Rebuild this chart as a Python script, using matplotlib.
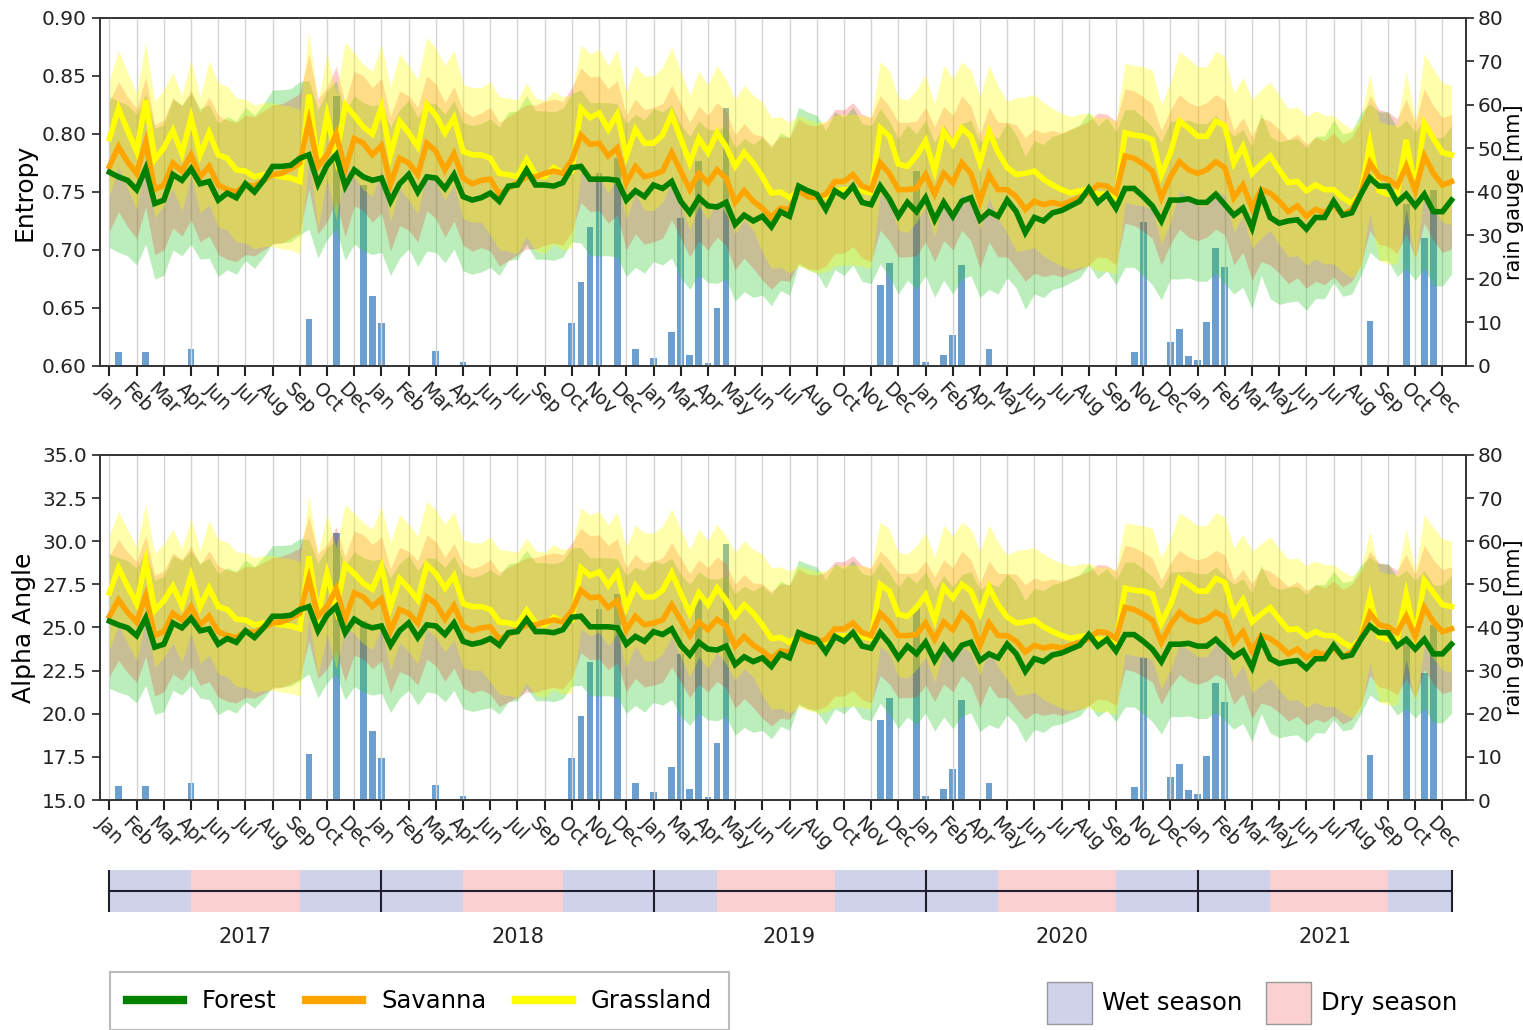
import numpy as np
import matplotlib
matplotlib.use("Agg")
import matplotlib.pyplot as plt
from matplotlib.lines import Line2D
from matplotlib.patches import Patch

plt.rcParams["font.family"] = ["DejaVu Sans"]

# tick labels, one every third acquisition
month_labels = ['Jan', 'Feb', 'Mar', 'Apr', 'Jun', 'Jul', 'Aug', 'Sep', 'Oct', 'Dec',
                'Jan', 'Feb', 'Mar', 'Apr', 'Jun', 'Jul', 'Sep', 'Oct', 'Nov', 'Dec',
                'Jan', 'Mar', 'Apr', 'May', 'Jun', 'Jul', 'Aug', 'Oct', 'Nov', 'Dec',
                'Jan', 'Feb', 'Apr', 'May', 'Jun', 'Jul', 'Aug', 'Sep', 'Nov', 'Dec',
                'Jan', 'Feb', 'Mar', 'May', 'Jun', 'Jul', 'Aug', 'Sep', 'Oct', 'Dec']

# mean entropy per class
forest_h = [0.767, 0.763, 0.760, 0.752, 0.770, 0.740, 0.743, 0.765, 0.760, 0.770,
            0.757, 0.759, 0.743, 0.749, 0.745, 0.757, 0.750, 0.760, 0.772, 0.772,
            0.773, 0.779, 0.782, 0.757, 0.773, 0.782, 0.755, 0.769, 0.763, 0.760,
            0.762, 0.742, 0.757, 0.765, 0.750, 0.763, 0.762, 0.753, 0.765, 0.746,
            0.743, 0.745, 0.749, 0.742, 0.755, 0.756, 0.769, 0.756, 0.756, 0.755,
            0.758, 0.771, 0.772, 0.761, 0.761, 0.761, 0.760, 0.743, 0.751, 0.746,
            0.756, 0.753, 0.759, 0.742, 0.732, 0.745, 0.738, 0.737, 0.741, 0.722,
            0.730, 0.725, 0.729, 0.720, 0.733, 0.729, 0.755, 0.751, 0.748, 0.735,
            0.751, 0.746, 0.755, 0.741, 0.739, 0.755, 0.744, 0.729, 0.741, 0.733,
            0.745, 0.726, 0.741, 0.729, 0.742, 0.745, 0.726, 0.733, 0.729, 0.743,
            0.733, 0.715, 0.728, 0.725, 0.732, 0.734, 0.738, 0.742, 0.753, 0.741,
            0.748, 0.736, 0.753, 0.753, 0.746, 0.738, 0.725, 0.743, 0.743, 0.744,
            0.741, 0.741, 0.748, 0.739, 0.730, 0.736, 0.719, 0.748, 0.728, 0.723,
            0.725, 0.726, 0.718, 0.728, 0.728, 0.742, 0.730, 0.732, 0.748, 0.762,
            0.755, 0.755, 0.741, 0.748, 0.738, 0.748, 0.733, 0.733, 0.743]
savanna_h = [0.772, 0.789, 0.776, 0.766, 0.793, 0.752, 0.756, 0.775, 0.768, 0.782,
             0.763, 0.772, 0.756, 0.752, 0.750, 0.756, 0.755, 0.760, 0.765, 0.766,
             0.770, 0.775, 0.811, 0.772, 0.782, 0.800, 0.769, 0.796, 0.792, 0.782,
             0.790, 0.757, 0.779, 0.775, 0.765, 0.792, 0.785, 0.769, 0.783, 0.762,
             0.757, 0.760, 0.761, 0.748, 0.753, 0.758, 0.763, 0.763, 0.766, 0.768,
             0.766, 0.778, 0.799, 0.791, 0.792, 0.781, 0.788, 0.758, 0.772, 0.763,
             0.765, 0.768, 0.784, 0.768, 0.752, 0.766, 0.758, 0.769, 0.762, 0.741,
             0.751, 0.742, 0.736, 0.728, 0.736, 0.735, 0.751, 0.746, 0.745, 0.748,
             0.759, 0.759, 0.765, 0.755, 0.752, 0.775, 0.766, 0.752, 0.752, 0.753,
             0.765, 0.748, 0.766, 0.758, 0.775, 0.766, 0.742, 0.765, 0.752, 0.752,
             0.746, 0.735, 0.742, 0.739, 0.741, 0.739, 0.742, 0.745, 0.749, 0.756,
             0.755, 0.749, 0.781, 0.779, 0.774, 0.768, 0.745, 0.763, 0.776, 0.769,
             0.766, 0.769, 0.776, 0.771, 0.745, 0.756, 0.736, 0.752, 0.749, 0.742,
             0.733, 0.738, 0.729, 0.735, 0.732, 0.739, 0.730, 0.735, 0.749, 0.775,
             0.763, 0.761, 0.755, 0.772, 0.751, 0.781, 0.766, 0.756, 0.759]
grass_h = [0.796, 0.822, 0.803, 0.785, 0.829, 0.778, 0.788, 0.803, 0.783, 0.814,
           0.782, 0.801, 0.782, 0.779, 0.769, 0.768, 0.763, 0.765, 0.765, 0.763,
           0.762, 0.759, 0.834, 0.773, 0.816, 0.780, 0.825, 0.816, 0.806, 0.800,
           0.823, 0.782, 0.811, 0.801, 0.789, 0.825, 0.816, 0.801, 0.814, 0.785,
           0.782, 0.782, 0.779, 0.766, 0.765, 0.763, 0.778, 0.765, 0.763, 0.771,
           0.766, 0.768, 0.822, 0.814, 0.818, 0.804, 0.817, 0.781, 0.804, 0.792,
           0.792, 0.799, 0.817, 0.796, 0.775, 0.796, 0.784, 0.801, 0.789, 0.772,
           0.784, 0.775, 0.763, 0.749, 0.750, 0.745, 0.751, 0.748, 0.745, 0.746,
           0.751, 0.752, 0.752, 0.751, 0.749, 0.805, 0.798, 0.774, 0.772, 0.781,
           0.794, 0.768, 0.802, 0.791, 0.805, 0.798, 0.775, 0.802, 0.784, 0.771,
           0.765, 0.766, 0.768, 0.761, 0.756, 0.752, 0.749, 0.751, 0.752, 0.748,
           0.748, 0.745, 0.801, 0.799, 0.798, 0.795, 0.765, 0.784, 0.811, 0.805,
           0.798, 0.798, 0.811, 0.807, 0.775, 0.789, 0.766, 0.774, 0.781, 0.769,
           0.758, 0.759, 0.751, 0.756, 0.752, 0.752, 0.745, 0.740, 0.749, 0.792,
           0.751, 0.748, 0.748, 0.795, 0.751, 0.809, 0.796, 0.784, 0.782]

# mean alpha angle per class
forest_a = [25.37, 25.15, 24.98, 24.53, 25.54, 23.86, 24.03, 25.26, 24.98, 25.54,
            24.81, 24.92, 24.03, 24.36, 24.14, 24.81, 24.42, 24.98, 25.65, 25.65,
            25.71, 26.04, 26.21, 24.81, 25.71, 26.21, 24.70, 25.48, 25.15, 24.98,
            25.09, 23.97, 24.81, 25.26, 24.42, 25.15, 25.09, 24.59, 25.26, 24.20,
            24.03, 24.14, 24.36, 23.97, 24.70, 24.76, 25.48, 24.76, 24.76, 24.70,
            24.87, 25.60, 25.65, 25.04, 25.04, 25.04, 24.98, 24.03, 24.48, 24.20,
            24.76, 24.59, 24.92, 23.97, 23.41, 24.14, 23.75, 23.69, 23.92, 22.85,
            23.30, 23.02, 23.24, 22.74, 23.47, 23.24, 24.70, 24.48, 24.31, 23.58,
            24.48, 24.20, 24.70, 23.92, 23.80, 24.70, 24.08, 23.24, 23.92, 23.47,
            24.14, 23.08, 23.92, 23.24, 23.97, 24.14, 23.08, 23.47, 23.24, 24.03,
            23.47, 22.46, 23.19, 23.02, 23.41, 23.52, 23.75, 23.97, 24.59, 23.92,
            24.31, 23.64, 24.59, 24.59, 24.20, 23.75, 23.02, 24.03, 24.03, 24.08,
            23.92, 23.92, 24.31, 23.80, 23.30, 23.64, 22.68, 24.31, 23.19, 22.91,
            23.02, 23.08, 22.63, 23.19, 23.19, 23.97, 23.30, 23.41, 24.31, 25.09,
            24.70, 24.70, 23.92, 24.31, 23.75, 24.31, 23.47, 23.47, 24.03]
savanna_a = [25.65, 26.60, 25.88, 25.32, 26.83, 24.53, 24.76, 25.82, 25.43, 26.21,
             25.15, 25.65, 24.76, 24.53, 24.42, 24.76, 24.70, 24.98, 25.26, 25.32,
             25.54, 25.82, 27.84, 25.65, 26.21, 27.22, 25.48, 27.00, 26.77, 26.21,
             26.66, 24.81, 26.04, 25.82, 25.26, 26.77, 26.38, 25.48, 26.27, 25.09,
             24.81, 24.98, 25.04, 24.31, 24.59, 24.87, 25.15, 25.15, 25.32, 25.43,
             25.32, 25.99, 27.16, 26.72, 26.77, 26.16, 26.55, 24.87, 25.65, 25.15,
             25.26, 25.43, 26.32, 25.43, 24.53, 25.32, 24.87, 25.48, 25.09, 23.92,
             24.48, 23.97, 23.64, 23.19, 23.64, 23.58, 24.48, 24.20, 24.14, 24.31,
             24.92, 24.92, 25.26, 24.70, 24.53, 25.82, 25.32, 24.53, 24.53, 24.59,
             25.26, 24.31, 25.32, 24.87, 25.82, 25.32, 23.97, 25.26, 24.53, 24.53,
             24.20, 23.58, 23.97, 23.80, 23.92, 23.80, 23.97, 24.14, 24.36, 24.76,
             24.70, 24.36, 26.16, 26.04, 25.76, 25.43, 24.14, 25.15, 25.88, 25.48,
             25.32, 25.48, 25.88, 25.60, 24.14, 24.76, 23.64, 24.53, 24.36, 23.97,
             23.47, 23.75, 23.24, 23.58, 23.41, 23.80, 23.30, 23.58, 24.36, 25.82,
             25.15, 25.04, 24.70, 25.65, 24.48, 26.16, 25.32, 24.76, 24.92]
grass_a = [27.00, 28.45, 27.39, 26.38, 28.84, 25.99, 26.55, 27.39, 26.27, 28.00,
           26.21, 27.28, 26.21, 26.04, 25.48, 25.43, 25.15, 25.26, 25.26, 25.15,
           25.09, 24.92, 29.12, 25.71, 28.12, 26.10, 28.62, 28.12, 27.56, 27.22,
           28.51, 26.21, 27.84, 27.28, 26.60, 28.62, 28.12, 27.28, 28.00, 26.38,
           26.21, 26.21, 26.04, 25.32, 25.26, 25.15, 25.99, 25.26, 25.15, 25.60,
           25.32, 25.43, 28.45, 28.00, 28.23, 27.44, 28.17, 26.16, 27.44, 26.77,
           26.77, 27.16, 28.17, 27.00, 25.82, 27.00, 26.32, 27.28, 26.60, 25.65,
           26.32, 25.82, 25.15, 24.36, 24.42, 24.14, 24.48, 24.31, 24.14, 24.20,
           24.48, 24.53, 24.53, 24.48, 24.36, 27.50, 27.11, 25.76, 25.65, 26.16,
           26.88, 25.43, 27.33, 26.72, 27.50, 27.11, 25.82, 27.33, 26.32, 25.60,
           25.26, 25.32, 25.43, 25.04, 24.76, 24.53, 24.36, 24.48, 24.53, 24.31,
           24.31, 24.14, 27.28, 27.16, 27.11, 26.94, 25.26, 26.32, 27.84, 27.50,
           27.11, 27.11, 27.84, 27.61, 25.82, 26.60, 25.32, 25.76, 26.16, 25.48,
           24.87, 24.92, 24.48, 24.76, 24.53, 24.53, 24.14, 23.86, 24.36, 26.77,
           24.48, 24.31, 24.31, 26.94, 24.48, 27.72, 27.00, 26.32, 26.21]

# band half widths (std), one value per stretch of acquisitions
std_seg_len = [11, 11, 9, 11, 10, 7, 13, 13, 15, 12, 14, 13, 10]
forest_std_h = [0.065, 0.066, 0.064, 0.064, 0.064, 0.066, 0.066, 0.068, 0.067, 0.066, 0.068, 0.070, 0.064]
savanna_std_h = [0.056, 0.060, 0.058, 0.058, 0.062, 0.058, 0.058, 0.062, 0.058, 0.062, 0.058, 0.062, 0.058]
grass_std_h = [0.050, 0.062, 0.054, 0.058, 0.066, 0.055, 0.058, 0.065, 0.057, 0.066, 0.060, 0.064, 0.060]
forest_std_a = [3.9, 4.1, 3.9, 3.9, 4.0, 4.0, 4.1, 4.2, 4.1, 4.1, 4.2, 4.3, 4.0]
savanna_std_a = [3.5, 3.8, 3.6, 3.6, 3.9, 3.6, 3.6, 3.9, 3.6, 3.9, 3.6, 3.9, 3.6]
grass_std_a = [3.3, 3.9, 3.5, 3.7, 4.2, 3.5, 3.7, 4.1, 3.6, 4.2, 3.8, 4.1, 3.8]

# rain gauge (mm)
rain_idx = [1, 2, 4, 9, 22, 25, 28, 29, 30, 36, 39, 51, 52, 53, 54, 56, 58, 60, 62, 63,
            64, 65, 66, 67, 68, 85, 86, 89, 90, 92, 93, 94, 95, 97, 113, 114, 117, 118,
            119, 120, 121, 122, 123, 139, 143, 145, 146]
rain_mm = [3.3, 0.3, 3.3, 4.0, 10.7, 62.0, 41.5, 16.0, 9.8, 3.5, 1.0, 9.8, 19.4, 32.0, 44.3, 47.7, 4.0, 1.9, 7.7, 33.9,
           2.5, 47.0, 0.7, 13.3, 59.4, 18.6, 23.6, 44.7, 1.0, 2.5, 7.1, 23.2, 0.3, 4.0, 3.1, 33.0, 5.4, 8.4,
           2.3, 1.4, 10.2, 27.1, 22.7, 10.4, 37.2, 29.5, 40.5]

# season strip
season_edges = [0, 9, 21, 30, 39, 50, 60, 67, 80, 90, 98, 111, 120, 128, 141, 148]
season_kind = ['wet', 'dry', 'wet', 'wet', 'dry', 'wet', 'wet', 'dry', 'wet',
               'wet', 'dry', 'wet', 'wet', 'dry', 'wet']
year_edges = [0, 30, 60, 90, 120, 148]
years = ['2017', '2018', '2019', '2020', '2021']

classes = ['Forest', 'Savanna', 'Grassland']
line_colors = {'Forest': '#008000', 'Savanna': '#ffa500', 'Grassland': '#ffff00'}
band_colors = {'Forest': 'limegreen', 'Savanna': 'red', 'Grassland': 'yellow'}
band_alpha = {'Forest': 0.33, 'Savanna': 0.2, 'Grassland': 0.33}
season_colors = {'wet': '#cfd2e8', 'dry': '#fad0d0'}
rain_color = '#6a9fd0'
spine_col = '#333333'

x = np.arange(len(forest_h))
tick_pos = np.arange(0, len(x), 3)
xlim = (-1.03, 149.6)


def expand(seg_vals):
    return np.repeat(seg_vals, std_seg_len)


def draw_panel(ax, means, stds, ylim, yticks, fmt, ylabel):
    ax_r = ax.twinx()
    ax_r.bar(rain_idx, rain_mm, width=0.75, color=rain_color)
    ax_r.set_ylim(0, 80)
    ax_r.set_yticks(np.arange(0, 81, 10))
    ax_r.set_ylabel('rain gauge [mm]', fontsize=15, labelpad=1)
    ax_r.tick_params(axis='y', labelsize=14.5, length=6, width=1.2, pad=2, colors='#222222')
    ax.set_zorder(ax_r.get_zorder() + 1)
    ax.patch.set_visible(False)

    for c in classes:
        m = np.array(means[c])
        s = expand(stds[c])
        ax.fill_between(x, m - s, m + s, color=band_colors[c], alpha=band_alpha[c], lw=0)
    for c in ['Grassland', 'Savanna', 'Forest']:
        ax.plot(x, means[c], color=line_colors[c], lw=4, solid_joinstyle='miter')

    ax.set_xlim(*xlim)
    ax.set_ylim(*ylim)
    ax.set_yticks(yticks)
    ax.set_yticklabels([fmt.format(v) for v in yticks])
    ax.set_xticks(tick_pos)
    ax.set_xticklabels(month_labels, rotation=-45, ha='center', fontsize=13.5)
    ax.grid(axis='x', color='#d4d4d4', lw=1)
    ax.set_axisbelow(True)
    ax.tick_params(axis='y', labelsize=14.5, length=6, width=1.2, colors='#222222')
    ax.tick_params(axis='x', length=7, width=1.5, colors='#222222', pad=3)
    ax.set_ylabel(ylabel, fontsize=18)
    for a in (ax, ax_r):
        for sp in a.spines.values():
            sp.set_color(spine_col)
            sp.set_linewidth(1.2)


fig = plt.figure(figsize=(15.23, 10.30), dpi=100)
ax_h = fig.add_axes([0.0657, 0.6447, 0.8969, 0.3379])
ax_a = fig.add_axes([0.0657, 0.2233, 0.8969, 0.3350])

draw_panel(ax_h,
           {'Forest': forest_h, 'Savanna': savanna_h, 'Grassland': grass_h},
           {'Forest': forest_std_h, 'Savanna': savanna_std_h, 'Grassland': grass_std_h},
           (0.60, 0.90), np.arange(0.60, 0.901, 0.05), '{:.2f}', 'Entropy')
draw_panel(ax_a,
           {'Forest': forest_a, 'Savanna': savanna_a, 'Grassland': grass_a},
           {'Forest': forest_std_a, 'Savanna': savanna_std_a, 'Grassland': grass_std_a},
           (15.0, 35.0), np.arange(15.0, 35.01, 2.5), '{:.1f}', 'Alpha Angle')

# season / year strip
ax_s = fig.add_axes([0.0657, 0.1146, 0.8969, 0.0408])
for a, b, kind in zip(season_edges[:-1], season_edges[1:], season_kind):
    ax_s.axvspan(a, b, color=season_colors[kind], lw=0)
ax_s.plot([year_edges[0], year_edges[-1]], [0.5, 0.5], color='#1f1f30', lw=1.5)
for e in year_edges:
    ax_s.plot([e, e], [0, 1], color='#1f1f30', lw=1.5)
for yr, a, b in zip(years, year_edges[:-1], year_edges[1:]):
    ax_s.text((a + b) / 2, -0.6, yr, ha='center', va='center', fontsize=15, color='#222222')
ax_s.set_xlim(*xlim)
ax_s.set_ylim(0, 1)
ax_s.axis('off')

# legends
line_handles = [Line2D([], [], color=line_colors[c], lw=6) for c in classes]
leg1 = fig.legend(line_handles, classes, loc='upper left', bbox_to_anchor=(0.072, 0.0563),
                  ncol=3, fontsize=17.5, frameon=True, fancybox=False, edgecolor='#aaaaaa',
                  handlelength=2.3, columnspacing=1.2, borderaxespad=0, borderpad=0.7)
leg1.get_frame().set_linewidth(1.5)

season_handles = [Patch(facecolor=season_colors['wet'], edgecolor='#999999'),
                  Patch(facecolor=season_colors['dry'], edgecolor='#999999')]
fig.legend(season_handles, ['Wet season', 'Dry season'], loc='upper left',
           bbox_to_anchor=(0.681, 0.0563), ncol=2, fontsize=17.5, frameon=False,
           handlelength=1.85, handleheight=2.3, columnspacing=1.0, handletextpad=0.4,
           borderaxespad=0)

fig.savefig('out.png', dpi=100)
